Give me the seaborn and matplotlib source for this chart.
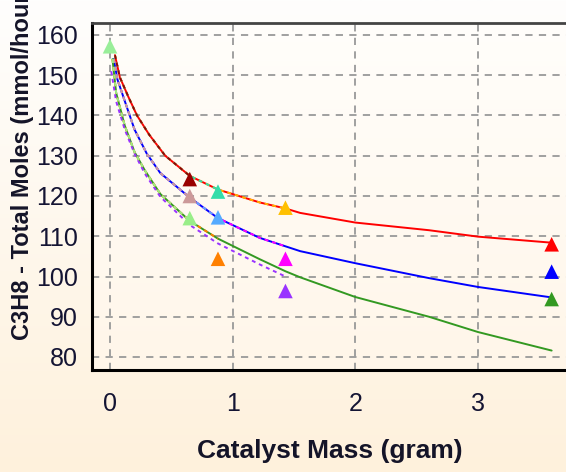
import numpy as np
import pandas as pd
import matplotlib
matplotlib.use("Agg")
import matplotlib.pyplot as plt
import seaborn as sns
from matplotlib.ticker import MultipleLocator
from matplotlib.colors import LinearSegmentedColormap

# ---------------- data ----------------
red_x = [0.04, 0.08, 0.15, 0.22, 0.32, 0.45, 0.65, 0.88, 1.22, 1.43, 1.55, 2.0, 2.6, 3.0, 3.6]
red_y = [155.0, 149.5, 144.6, 140.0, 135.2, 130.0, 125.0, 121.6, 118.4, 116.9, 115.8, 113.4, 111.5, 109.9, 108.4]

blue_x = [0.03, 0.06, 0.12, 0.2, 0.3, 0.41, 0.65, 0.88, 1.22, 1.43, 1.55, 2.0, 2.6, 3.0, 3.6]
blue_y = [154.0, 149.0, 143.6, 136.5, 130.5, 125.7, 119.6, 114.5, 109.6, 107.5, 106.3, 103.3, 99.6, 97.4, 94.8]

green_x = [0.02, 0.05, 0.12, 0.2, 0.285, 0.41, 0.65, 0.88, 1.22, 1.43, 1.55, 2.0, 2.6, 3.0, 3.6]
green_y = [154.0, 145.6, 137.5, 130.9, 126.3, 120.5, 113.8, 109.4, 104.3, 101.3, 99.8, 94.9, 90.0, 86.2, 81.6]

purple_x = [0.01, 0.05, 0.12, 0.2, 0.285, 0.41, 0.65, 0.88, 1.22, 1.43]
purple_y = [151.0, 143.5, 136.5, 130.5, 125.5, 119.8, 112.8, 108.2, 103.0, 100.0]

# sub-curves that follow a family curve up to their last sample point (drawn first, under)
curve_family = ["darkred", "rosy", "lightgreen", "turquoise", "cornflower", "orange",
                "gold", "magenta", "red", "blue", "green"]
curve_end = [0.65, 0.65, 0.65, 0.88, 0.88, 0.88,
             1.43, 1.43, 3.6, 3.6, 3.6]

marker_x = [0.0, 0.65, 0.65, 0.65, 0.88, 0.88, 0.88, 1.43, 1.43, 1.43, 3.6, 3.6, 3.6]
marker_y = [157.2, 124.2, 120.0, 114.5, 121.1, 114.7, 104.4, 117.1, 104.4, 96.4, 108.0, 101.2, 94.4]
marker_color = ["#99EE99", "#990000", "#CC9999", "#99EE88", "#33DDAA", "#55AAFF", "#FF8000",
                "#FFC000", "#FF00FF", "#9933FF", "#FF0000", "#0000FF", "#339922"]

x_ticks = [0, 1, 2, 3]
y_ticks = [80, 90, 100, 110, 120, 130, 140, 150, 160]
x_label = "Catalyst Mass (gram)"
y_label = "C3H8 - Total Moles (mmol/hour)"

# ---------------- build tables ----------------
fam = {"red": (red_x, red_y), "blue": (blue_x, blue_y), "green": (green_x, green_y)}
family_of = {"red": "red", "gold": "red", "turquoise": "red", "darkred": "red",
             "blue": "blue", "magenta": "blue", "cornflower": "blue", "rosy": "blue",
             "green": "green", "orange": "green", "lightgreen": "green"}
DOT = (0, (2.0, 2.0))
styles = {"red": ("#FF0000", "-"), "gold": ("#FFB000", DOT), "turquoise": ("#33DDAA", DOT),
          "darkred": ("#990000", DOT), "blue": ("#0000FF", "-"), "magenta": ("#FF00FF", DOT),
          "cornflower": ("#55AAFF", DOT), "rosy": ("#CC9999", DOT), "green": ("#339922", "-"),
          "orange": ("#FF8000", DOT), "lightgreen": ("#99EE88", DOT), "purple": ("#9933FF", DOT)}

rows = []
for name, end in zip(curve_family, curve_end):
    fx, fy = fam[family_of[name]]
    for xv, yv in zip(fx, fy):
        if xv <= end + 1e-9:
            rows.append({"curve": name, "x": xv, "y": yv})
for xv, yv in zip(purple_x, purple_y):
    rows.append({"curve": "purple", "x": xv, "y": yv})
curves = pd.DataFrame(rows)

markers = pd.DataFrame({"x": marker_x, "y": marker_y, "c": [str(i) for i in range(len(marker_x))]})

# ---------------- figure ----------------
sns.set_theme(style="white")
plt.rcParams["font.family"] = ["Liberation Sans", "DejaVu Sans"]

W, H = 566, 472
fig = plt.figure(figsize=(W / 100, H / 100), dpi=100)

# background gradient
bg = fig.add_axes([0, 0, 1, 1], zorder=-10)
grad = np.linspace(0, 1, 256).reshape(-1, 1)
cm_bg = LinearSegmentedColormap.from_list("bg", ["#FEFEFD", "#FFF1DC"])
bg.imshow(grad, aspect="auto", cmap=cm_bg, extent=[0, 1, 0, 1], origin="upper")
bg.axis("off")

left_px, right_px, top_px, bot_px = 92, 576, 22.5, 370
ax = fig.add_axes([left_px / W, 1 - bot_px / H, (right_px - left_px) / W, (bot_px - top_px) / H])
ax.set_facecolor("#FFFAF1")
cm_ax = LinearSegmentedColormap.from_list("axbg", ["#FFFEFB", "#FFF6E9"])
ax.imshow(grad, aspect="auto", cmap=cm_ax, extent=[0, 1, 0, 1], origin="upper",
          transform=ax.transAxes, zorder=0)

# main family curves first, then dotted sub-curves on top of them
order = ["red", "blue", "green", "gold", "magenta", "purple", "turquoise", "cornflower",
         "orange", "darkred", "rosy", "lightgreen"]
for name in order:
    col, ls = styles[name]
    sub = curves[curves["curve"] == name]
    sns.lineplot(data=sub, x="x", y="y", ax=ax, color=col, linestyle=ls, lw=1.4,
                 sort=False, estimator=None, zorder=3, legend=False)

# markers
pal = {str(i): c for i, c in enumerate(marker_color)}
sns.scatterplot(data=markers, x="x", y="y", hue="c", palette=pal, marker="^", s=110,
                linewidth=0, ax=ax, zorder=5, legend=False)

x0 = -0.147
ax.set_xlim(x0, x0 + (right_px - left_px) / 122.67)
ax.set_ylim(160 - (bot_px - 35) / 4.025, 160 + (35 - top_px) / 4.025)

ax.set_xticks(x_ticks)
ax.set_yticks(y_ticks)
ax.xaxis.set_minor_locator(MultipleLocator(0.25))
ax.yaxis.set_minor_locator(MultipleLocator(2.5))
ax.grid(True, which="major", color="#999999", linestyle=(0, (4, 3.5)), lw=1.3, zorder=1)
ax.set_axisbelow(True)

for s in ["left", "bottom"]:
    ax.spines[s].set_color("black")
    ax.spines[s].set_linewidth(2.2)
ax.spines["top"].set_color("#444444")
ax.spines["top"].set_linewidth(2.0)
ax.spines["right"].set_visible(False)

tick_col = "#141433"
ax.tick_params(axis="both", which="major", direction="inout", length=8, width=1.2,
               color="#777777", labelsize=18, labelcolor=tick_col)
ax.tick_params(axis="both", which="minor", direction="out", length=4, width=1.0, color="#777777")
ax.tick_params(axis="x", which="major", pad=12)
ax.tick_params(axis="y", which="major", pad=6)

ax.set_xlabel(x_label, fontsize=19, fontweight="bold", color="#141428")
ax.xaxis.label.set_va("center")
ax.xaxis.set_label_coords((330 - left_px) / (right_px - left_px), (H - 451 - (H - bot_px)) / (bot_px - top_px))
ax.set_ylabel("")
fig.text(23 / W, (H - 340) / H, y_label, rotation=90, ha="center", va="bottom",
         fontsize=17, fontweight="bold", color="#141428")

fig.savefig("out.png", dpi=100)
